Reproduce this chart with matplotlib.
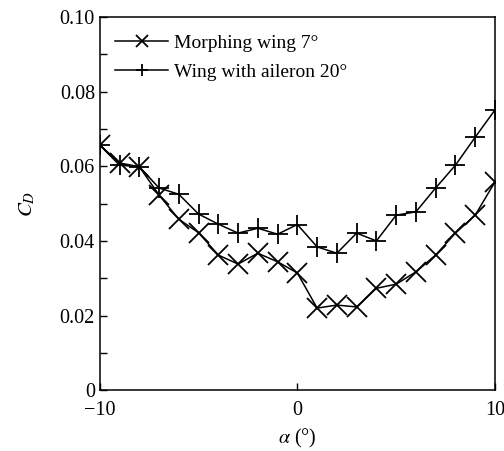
import matplotlib
matplotlib.use("Agg")
import matplotlib.pyplot as plt
from matplotlib.ticker import MultipleLocator

plt.rcParams['font.family'] = ['Liberation Serif', 'DejaVu Serif']
plt.rcParams['mathtext.fontset'] = 'stix'

alpha = [-10, -9, -8, -7, -6, -5, -4, -3, -2, -1, 0, 1, 2, 3, 4, 5, 6, 7, 8, 9, 10]
cd_morphing = [0.0657, 0.0609, 0.0599, 0.0523, 0.0458, 0.0422, 0.0362, 0.0338, 0.0367, 0.0344,
               0.0314, 0.0220, 0.0228, 0.0223, 0.0273, 0.0284, 0.0317, 0.0362, 0.0421, 0.0469, 0.0558]
cd_aileron = [0.0657, 0.0603, 0.0599, 0.0542, 0.0525, 0.0472, 0.0445, 0.0421, 0.0434, 0.0418,
              0.0444, 0.0384, 0.0367, 0.0421, 0.0400, 0.0469, 0.0478, 0.0542, 0.0603, 0.0678, 0.0751]
labels = ["Morphing wing 7°", "Wing with aileron 20°"]

fig = plt.figure(figsize=(5.04, 4.51), dpi=100)
ax = fig.add_axes([0.198, 0.135, 0.784, 0.827])

ax.plot(alpha, cd_morphing, color='black', lw=1.1, marker='x', ms=14, mew=1.3, label=labels[0])
ax.plot(alpha, cd_aileron, color='black', lw=1.1, marker='+', ms=15, mew=1.3, label=labels[1])

ax.set_xlim(-10, 10)
ax.set_ylim(0, 0.10)
ax.set_xticks([-10, 0, 10])
ax.set_xticklabels(['\u221210', '0', '10'])
ax.yaxis.set_minor_locator(MultipleLocator(0.01))
ax.set_yticks([0, 0.02, 0.04, 0.06, 0.08, 0.10])
ax.set_yticklabels(['0', '0.02', '0.04', '0.06', '0.08', '0.10'])
ax.tick_params(axis='both', which='both', direction='in', labelsize=14.5, top=False, right=False)
ax.tick_params(axis='both', which='major', length=5, width=1)
ax.tick_params(axis='y', which='minor', length=5, width=1)
ax.tick_params(axis='x', pad=8)
for s in ax.spines.values():
    s.set_linewidth(1.1)

ax.set_xlabel(r'$\alpha$ (°)', fontsize=14.5, labelpad=5)
ax.set_ylabel(r'$C_D$', fontsize=15, labelpad=16)

leg = ax.legend(loc='upper left', bbox_to_anchor=(-0.005, 1.0), frameon=False, fontsize=14,
                handlelength=2.7, markerscale=0.6, handletextpad=0.3, labelspacing=0.55)

fig.savefig('out.png', dpi=100)
